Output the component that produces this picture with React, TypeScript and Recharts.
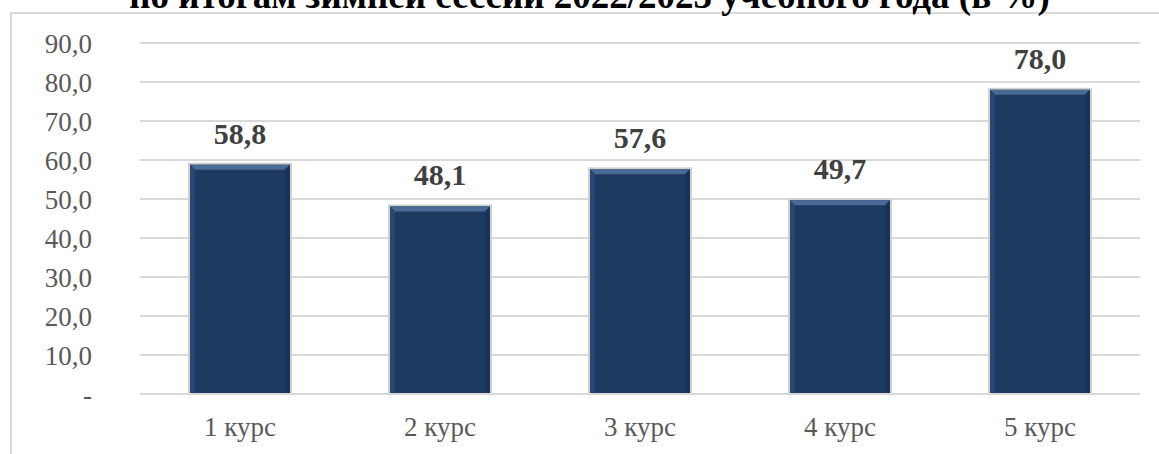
import React from "react";
import { BarChart, Bar, XAxis, YAxis, CartesianGrid, LabelList } from "recharts";

const categories = ["1 курс", "2 курс", "3 курс", "4 курс", "5 курс"];
const values = [58.8, 48.1, 57.6, 49.7, 78.0];
const yTicks = [0, 10, 20, 30, 40, 50, 60, 70, 80, 90];
const title = "по итогам зимней сессии 2022/2023 учебного года (в %)";

const data = categories.map((c, i) => ({ name: c, value: values[i] }));

const fmt = (v: number) => (v === 0 ? "-" : v.toFixed(1).replace(".", ","));

const SERIF = "'Liberation Serif', 'Times New Roman', serif";

const BevelBar = (props: any) => {
  const { x, y, width, height } = props;
  if (!height || height <= 0) return null;
  const b = 5;
  return (
    <g>
      <rect x={x - 2} y={y - 2} width={width + 4} height={height + 3} fill="#d0d0d0" />
      <rect x={x} y={y} width={width} height={height} fill="#1f3a61" />
      <polygon
        points={`${x},${y} ${x + width},${y} ${x + width - b},${y + b} ${x + b},${y + b}`}
        fill="#4a6a96"
      />
      <polygon
        points={`${x},${y} ${x + b},${y + b} ${x + b},${y + height} ${x},${y + height}`}
        fill="#2a4774"
      />
      <polygon
        points={`${x + width},${y} ${x + width},${y + height} ${x + width - b},${y + height} ${x + width - b},${y + b}`}
        fill="#1a3358"
      />
    </g>
  );
};

export default function App() {
  return (
    <div
      style={{
        position: "absolute",
        left: 0,
        top: 0,
        width: 1159,
        height: 454,
        overflow: "hidden",
        background: "#fff",
        fontFamily: SERIF,
      }}
    >
      <style>{`.chart-serif text, .chart-serif tspan { font-family: 'Liberation Serif', 'Times New Roman', serif !important; }`}</style>
      <div
        style={{
          position: "absolute",
          left: 10,
          top: 12,
          width: 1200,
          height: 500,
          border: "2px solid #d9d9d9",
          boxSizing: "border-box",
        }}
      />
      <div
        style={{
          position: "absolute",
          left: 0,
          width: 1179,
          top: -24,
          textAlign: "center",
          fontFamily: SERIF,
          fontWeight: "bold",
          fontSize: 37,
          lineHeight: "40px",
          color: "#000",
          whiteSpace: "nowrap",
        }}
      >
        {title}
      </div>
      <div className="chart-serif" style={{ position: "absolute", left: 0, top: 0 }}>
        <BarChart
          width={1159}
          height={454}
          data={data}
          margin={{ top: 43, right: 19, bottom: 0, left: 0 }}
          barCategoryGap="25%"
        >
          <CartesianGrid vertical={false} stroke="#d9d9d9" strokeWidth={2} />
          <XAxis
            dataKey="name"
            height={60}
            axisLine={{ stroke: "#d9d9d9", strokeWidth: 2 }}
            tickLine={false}
            tickMargin={17}
            tick={{ fill: "#595959", fontSize: 27 }}
          />
          <YAxis
            width={140}
            domain={[0, 90]}
            ticks={yTicks}
            interval={0}
            axisLine={false}
            tickLine={false}
            tickMargin={42}
            tickFormatter={fmt}
            tick={{ fill: "#595959", fontSize: 27 }}
          />
          <Bar dataKey="value" shape={<BevelBar />} isAnimationActive={false}>
            <LabelList
              dataKey="value"
              position="top"
              offset={21}
              formatter={(v: any) => fmt(Number(v))}
              style={{ fill: "#404040", fontSize: 30, fontWeight: "bold" }}
            />
          </Bar>
        </BarChart>
      </div>
    </div>
  );
}
